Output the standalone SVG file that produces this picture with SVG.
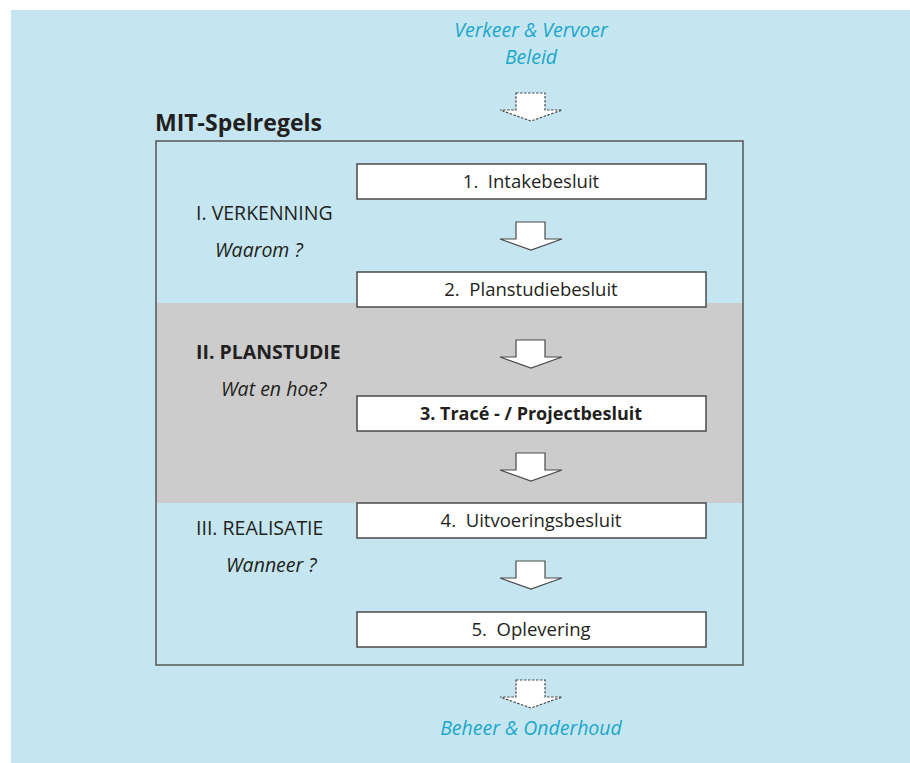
<svg xmlns="http://www.w3.org/2000/svg" width="910" height="763" viewBox="0 0 910 763">
  <defs>
    <style>
      .txt { font-family: "Open Sans", "Noto Sans", "Liberation Sans", sans-serif; fill: #231f20; }
      .lbl { font-size: 19.5px; }
      .step { font-size: 18.5px; }
      .it { font-style: italic; }
      .bold { font-weight: bold; }
      .blue { fill: #1ba6cc; font-size: 19.5px; font-style: italic; }
      .box { fill: #ffffff; stroke: #4a4a4a; stroke-width: 1.5; }
      .arrow { fill: #ffffff; stroke: #4a4a4a; stroke-width: 1.2; stroke-linejoin: miter; }
      .arrow-dash { fill: #ffffff; stroke: #4a4a4a; stroke-width: 1.2; stroke-dasharray: 2.5 1.5; }
    </style>
    <!-- block arrow, origin at top of shaft centre line -->
    <path id="blockArrow" d="M -15 0 H 14 V 17 H 31 L 0 28 L -31 17 H -15 Z"/>
  </defs>

  <!-- background panel -->
  <rect x="11" y="10" width="899" height="753" fill="#c5e6f0"/>

  <!-- planning phase band -->
  <rect x="156" y="303" width="587" height="200" fill="#cccccc"/>

  <!-- main frame -->
  <rect x="156" y="141" width="587" height="524" fill="none" stroke="#555555" stroke-width="1.5"/>

  <text class="txt bold" x="155" y="131" font-size="23">MIT-Spelregels</text>

  <g id="input">
    <text class="txt blue" x="531" y="37" text-anchor="middle">Verkeer &amp; Vervoer</text>
    <text class="txt blue" x="531" y="64" text-anchor="middle">Beleid</text>
  </g>

  <g id="output">
    <text class="txt blue" x="531" y="735" font-size="20.5" text-anchor="middle">Beheer &amp; Onderhoud</text>
  </g>

  <g id="phase-verkenning">
    <text class="txt lbl" x="196" y="220">I. VERKENNING</text>
    <text class="txt lbl it" x="215" y="257">Waarom ?</text>
  </g>
  <g id="phase-planstudie">
    <text class="txt lbl bold" x="196" y="359" font-size="18.5">II. PLANSTUDIE</text>
    <text class="txt lbl it" x="221" y="396">Wat en hoe?</text>
  </g>
  <g id="phase-realisatie">
    <text class="txt lbl" x="196" y="535">III. REALISATIE</text>
    <text class="txt lbl it" x="226" y="572">Wanneer ?</text>
  </g>

  <g id="step1">
    <rect class="box" x="357" y="164" width="349" height="35"/>
    <text class="txt step" x="531" y="188" text-anchor="middle" xml:space="preserve">1.  Intakebesluit</text>
  </g>
  <g id="step2">
    <rect class="box" x="357" y="272" width="349" height="35"/>
    <text class="txt step" x="531" y="296" text-anchor="middle" xml:space="preserve">2.  Planstudiebesluit</text>
  </g>
  <g id="step3">
    <rect class="box" x="357" y="396" width="349" height="35"/>
    <text class="txt bold" x="531" y="420" font-size="18" text-anchor="middle">3. Tracé - / Projectbesluit</text>
  </g>
  <g id="step4">
    <rect class="box" x="357" y="503" width="349" height="35"/>
    <text class="txt step" x="531" y="527" text-anchor="middle" xml:space="preserve">4.  Uitvoeringsbesluit</text>
  </g>
  <g id="step5">
    <rect class="box" x="357" y="612" width="349" height="35"/>
    <text class="txt step" x="531" y="636" text-anchor="middle" xml:space="preserve">5.  Oplevering</text>
  </g>

  <g id="connectors">
    <use href="#blockArrow" class="arrow-dash" x="531" y="93"/>
    <use href="#blockArrow" class="arrow" x="531" y="222"/>
    <use href="#blockArrow" class="arrow" x="531" y="340"/>
    <use href="#blockArrow" class="arrow" x="531" y="453"/>
    <use href="#blockArrow" class="arrow" x="531" y="561"/>
    <use href="#blockArrow" class="arrow-dash" x="531" y="680"/>
  </g>
</svg>
